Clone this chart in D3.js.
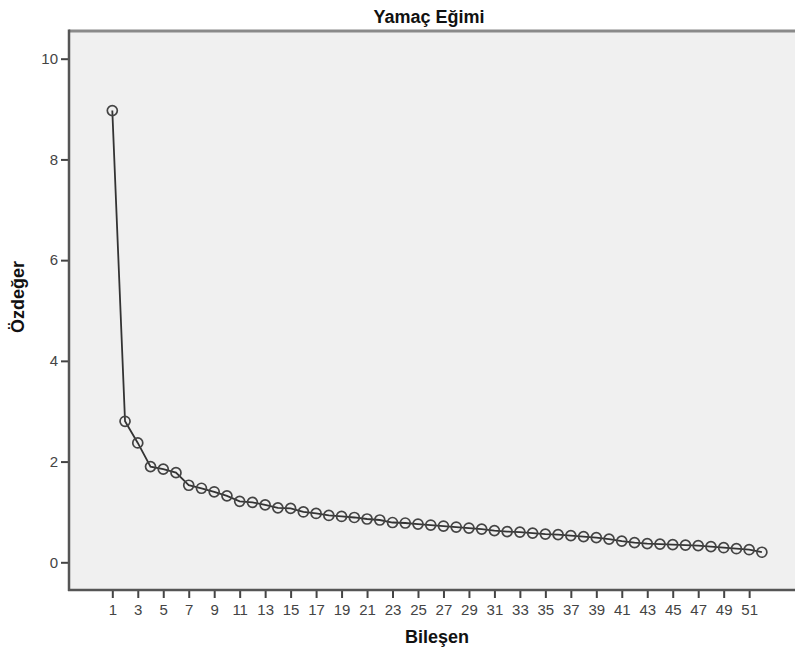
<!DOCTYPE html>
<html>
<head>
<meta charset="utf-8">
<script src="https://cdn.jsdelivr.net/npm/d3@7"></script>
<style>
	body { margin: 0; background: #fff; }
	#chart { width: 795px; height: 659px; }
</style>
</head>
<body>
<div id="chart"></div>
<script>
const components = d3.range(1, 53);
const eigenvalues = [
	8.97, 2.80, 2.37, 1.90, 1.85, 1.78, 1.53, 1.47, 1.40, 1.32,
	1.21, 1.19, 1.14, 1.08, 1.07, 1.00, 0.97, 0.93, 0.91, 0.89,
	0.86, 0.84, 0.79, 0.78, 0.76, 0.74, 0.72, 0.70, 0.68, 0.66,
	0.63, 0.61, 0.60, 0.58, 0.56, 0.55, 0.53, 0.51, 0.49, 0.46,
	0.42, 0.39, 0.37, 0.36, 0.35, 0.34, 0.33, 0.31, 0.29, 0.27,
	0.25, 0.20
];
const xTicks = d3.range(1, 52, 2);
const yTicks = [0, 2, 4, 6, 8, 10];

const points = components.map((c, i) => ({ comp: c, value: eigenvalues[i] }));

const width = 795;
const height = 659;
const plot = { left: 69, top: 31, right: 800, bottom: 590 };

const svg = d3
	.select('#chart')
	.append('svg')
	.attr('width', width)
	.attr('height', height)
	.style('font-family', 'Liberation Sans, Arial, sans-serif');

const xScale = d3.scaleLinear().domain([ -2.4, 54.6 ]).range([ plot.left, 795 ]);
const yScale = d3.scaleLinear().domain([ -0.55, 10.55 ]).range([ plot.bottom, plot.top ]);

// plot background
svg
	.append('rect')
	.attr('x', plot.left)
	.attr('y', plot.top)
	.attr('width', plot.right - plot.left)
	.attr('height', plot.bottom - plot.top)
	.style('fill', '#f0f0f0');

// top frame line
svg
	.append('line')
	.attr('x1', plot.left)
	.attr('x2', plot.right)
	.attr('y1', plot.top)
	.attr('y2', plot.top)
	.style('stroke', '#8a8a8a')
	.style('stroke-width', 3);

// y axis
const yAxis = svg
	.append('g')
	.attr('transform', `translate(${plot.left}, 0)`)
	.call(d3.axisLeft(yScale).tickValues(yTicks).tickSize(8).tickPadding(3));

// x axis
const xAxis = svg
	.append('g')
	.attr('transform', `translate(0, ${plot.bottom})`)
	.call(d3.axisBottom(xScale).tickValues(xTicks).tickSize(8).tickPadding(6));

[ yAxis, xAxis ].forEach((ax) => {
	ax.select('.domain').remove();
	ax.selectAll('.tick line').style('stroke', '#444').style('stroke-width', 2);
	ax.selectAll('.tick text').style('fill', '#444').style('font-size', '15px').style('font-family', 'Liberation Sans, Arial, sans-serif');
});

// axis lines
svg
	.append('line')
	.attr('x1', plot.left)
	.attr('x2', plot.left)
	.attr('y1', plot.top - 1.5)
	.attr('y2', plot.bottom + 1)
	.style('stroke', '#555')
	.style('stroke-width', 2.5);

svg
	.append('line')
	.attr('x1', plot.left - 1)
	.attr('x2', plot.right)
	.attr('y1', plot.bottom)
	.attr('y2', plot.bottom)
	.style('stroke', '#555')
	.style('stroke-width', 2.5);

const line = d3.line().x((d) => xScale(d.comp)).y((d) => yScale(d.value));

svg
	.append('path')
	.datum(points)
	.attr('d', line)
	.style('fill', 'none')
	.style('stroke', '#333')
	.style('stroke-width', 1.8);

svg
	.selectAll('circle.pt')
	.data(points)
	.enter()
	.append('circle')
	.attr('class', 'pt')
	.attr('cx', (d) => xScale(d.comp))
	.attr('cy', (d) => yScale(d.value))
	.attr('r', 5)
	.style('fill', 'none')
	.style('stroke', '#444')
	.style('stroke-width', 1.7);

// title
svg
	.append('text')
	.attr('x', 429)
	.attr('y', 23)
	.attr('text-anchor', 'middle')
	.style('font-size', '18px')
	.style('font-weight', 'bold')
	.style('fill', '#111')
	.text('Yamaç Eğimi');

// axis titles
svg
	.append('text')
	.attr('x', 437)
	.attr('y', 643)
	.attr('text-anchor', 'middle')
	.style('font-size', '18px')
	.style('font-weight', 'bold')
	.style('fill', '#111')
	.text('Bileşen');

svg
	.append('text')
	.attr('transform', 'translate(24, 297) rotate(-90)')
	.attr('text-anchor', 'middle')
	.style('font-size', '18px')
	.style('font-weight', 'bold')
	.style('fill', '#111')
	.text('Özdeğer');
</script>
</body>
</html>
